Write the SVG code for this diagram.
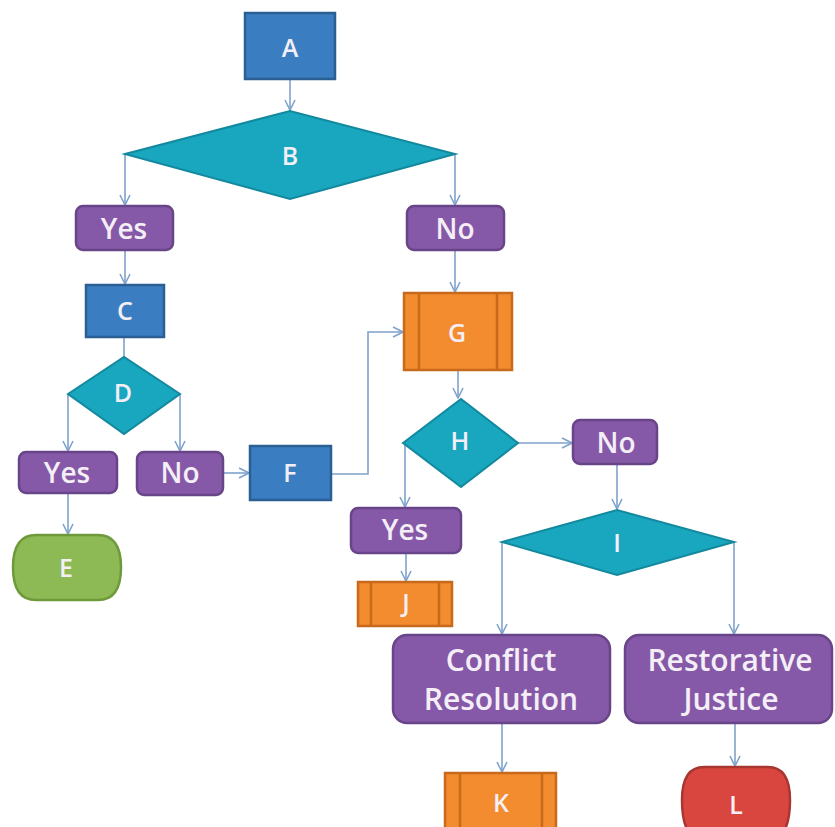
<svg xmlns="http://www.w3.org/2000/svg" width="835" height="827" viewBox="0 0 835 827">
<defs>
<marker id="arr" viewBox="0 0 12 12" refX="11" refY="6" markerWidth="12" markerHeight="12" markerUnits="userSpaceOnUse" orient="auto">
<path d="M1,1 L11,6 L1,11" fill="none" stroke="#7FA3CB" stroke-width="1.6"/>
</marker>
<style>
.blue{fill:#3A7EC1;stroke:#2B5F93;stroke-width:2.5}
.dia{fill:#19A6BF;stroke:#13899E;stroke-width:2}
.pur{fill:#8659A8;stroke:#684488;stroke-width:2.5}
.org{fill:#F38B2F;stroke:#C76A1C;stroke-width:2.5}
.orgl{fill:none;stroke:#C76A1C;stroke-width:2.5}
.grn{fill:#8DBA55;stroke:#6F9A3B;stroke-width:2.5}
.red{fill:#D9463F;stroke:#A93731;stroke-width:2.5}
.t{font-family:"Open Sans","Liberation Sans",sans-serif;fill:#F4EEF6;text-anchor:middle;dominant-baseline:central;font-weight:600}
.s{font-size:25px}
.m{font-size:28px}
.l{font-size:30px}
.c line,.c path{fill:none;stroke:#7FA3CB;stroke-width:1.6}
</style>
</defs>
<g class="c" id="connectors">
<line x1="290" y1="79" x2="290" y2="110" marker-end="url(#arr)"/>
<line x1="125" y1="154" x2="125" y2="205" marker-end="url(#arr)"/>
<line x1="455" y1="154" x2="455" y2="205" marker-end="url(#arr)"/>
<line x1="125" y1="250" x2="125" y2="284" marker-end="url(#arr)"/>
<line x1="124" y1="337" x2="124" y2="357"/>
<line x1="68" y1="394" x2="68" y2="451" marker-end="url(#arr)"/>
<line x1="180" y1="394" x2="180" y2="451" marker-end="url(#arr)"/>
<line x1="68" y1="493" x2="68" y2="534" marker-end="url(#arr)"/>
<line x1="223" y1="473" x2="249" y2="473" marker-end="url(#arr)"/>
<path d="M331,474 H368 V332 H403" marker-end="url(#arr)"/>
<line x1="455" y1="250" x2="455" y2="292" marker-end="url(#arr)"/>
<line x1="458" y1="370" x2="458" y2="398" marker-end="url(#arr)"/>
<line x1="518" y1="443" x2="572" y2="443" marker-end="url(#arr)"/>
<line x1="405" y1="443" x2="405" y2="507" marker-end="url(#arr)"/>
<line x1="406" y1="553" x2="406" y2="581" marker-end="url(#arr)"/>
<line x1="617" y1="464" x2="617" y2="509" marker-end="url(#arr)"/>
<line x1="502" y1="542" x2="502" y2="634" marker-end="url(#arr)"/>
<line x1="734" y1="542" x2="734" y2="634" marker-end="url(#arr)"/>
<line x1="502" y1="723" x2="502" y2="772" marker-end="url(#arr)"/>
<line x1="735" y1="723" x2="735" y2="766" marker-end="url(#arr)"/>
</g>
<g id="A"><rect class="blue" x="245" y="13" width="90" height="66"/><text class="t s" x="290" y="47">A</text></g>
<g id="B"><polygon class="dia" points="125,154 290,111 455,154 290,199"/><text class="t s" x="290" y="155">B</text></g>
<g id="Yes1"><rect class="pur" x="76" y="206" width="97" height="44" rx="7"/><text class="t m" x="124" y="228">Yes</text></g>
<g id="No1"><rect class="pur" x="407" y="206" width="97" height="44" rx="7"/><text class="t m" x="455" y="228">No</text></g>
<g id="C"><rect class="blue" x="86" y="285" width="78" height="52"/><text class="t s" x="125" y="310">C</text></g>
<g id="D"><polygon class="dia" points="68,394 124,357 180,394 124,434"/><text class="t s" x="123" y="392">D</text></g>
<g id="Yes2"><rect class="pur" x="19" y="452" width="98" height="41" rx="7"/><text class="t m" x="67" y="472">Yes</text></g>
<g id="No2"><rect class="pur" x="137" y="452" width="86" height="43" rx="7"/><text class="t m" x="180" y="472">No</text></g>
<g id="E"><path class="grn" d="M36,535 H98 Q121,535 121,567.5 Q121,600 98,600 H36 Q13,600 13,567.5 Q13,535 36,535 Z"/><text class="t s" x="66" y="567">E</text></g>
<g id="F"><rect class="blue" x="250" y="446" width="81" height="54"/><text class="t s" x="290" y="472">F</text></g>
<g id="G"><rect class="org" x="404" y="293" width="108" height="77"/><line class="orgl" x1="419" y1="293" x2="419" y2="370"/><line class="orgl" x1="497" y1="293" x2="497" y2="370"/><text class="t s" x="457" y="332">G</text></g>
<g id="H"><polygon class="dia" points="403,443 461,399 518,443 461,487"/><text class="t s" x="460" y="440">H</text></g>
<g id="No3"><rect class="pur" x="573" y="420" width="84" height="44" rx="7"/><text class="t m" x="616" y="442">No</text></g>
<g id="Yes3"><rect class="pur" x="351" y="508" width="110" height="45" rx="7"/><text class="t m" x="405" y="529">Yes</text></g>
<g id="J"><rect class="org" x="358" y="582" width="94" height="44"/><line class="orgl" x1="371" y1="582" x2="371" y2="626"/><line class="orgl" x1="439" y1="582" x2="439" y2="626"/><text class="t s" x="406" y="602">J</text></g>
<g id="I"><polygon class="dia" points="502,542 617,510 734,542 617,575"/><text class="t s" x="617" y="542">I</text></g>
<g id="Conflict"><rect class="pur" x="393" y="635" width="217" height="88" rx="14"/><text class="t l" x="501" y="659">Conflict</text><text class="t l" x="501" y="698">Resolution</text></g>
<g id="Restorative"><rect class="pur" x="625" y="635" width="207" height="88" rx="14"/><text class="t l" x="730" y="659">Restorative</text><text class="t l" x="731" y="698">Justice</text></g>
<g id="K"><rect class="org" x="445" y="773" width="111" height="62"/><line class="orgl" x1="460" y1="773" x2="460" y2="835"/><line class="orgl" x1="542" y1="773" x2="542" y2="835"/><text class="t s" x="501" y="802">K</text></g>
<g id="L"><path class="red" d="M704,767 H768 Q790,767 790,800 Q790,840 768,840 H704 Q682,840 682,800 Q682,767 704,767 Z"/><text class="t s" x="736" y="804">L</text></g>
</svg>
